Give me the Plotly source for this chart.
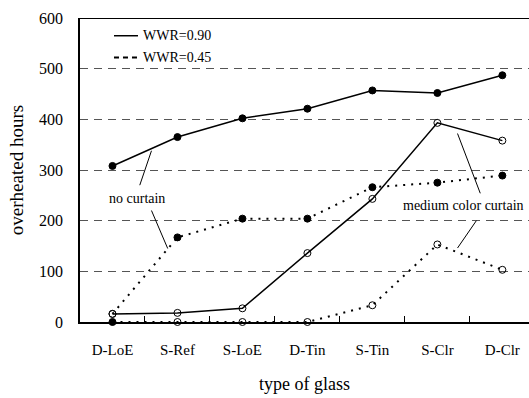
import plotly.graph_objects as go

glass = ["D-LoE", "S-Ref", "S-LoE", "D-Tin", "S-Tin", "S-Clr", "D-Clr"]
wwr90_none = [308, 365, 402, 421, 457, 452, 487]
wwr90_curtain = [16, 18, 27, 136, 243, 393, 358]
wwr45_none = [16, 167, 204, 204, 266, 275, 289]
wwr45_curtain = [0, 0, 0, 0, 33, 153, 103]
y_ticks = [0, 100, 200, 300, 400, 500, 600]

FONT = "'Liberation Serif', 'Times New Roman', serif"
fig = go.Figure()

def add(vals, dash, width, symbols):
    fig.add_trace(go.Scatter(
        x=glass, y=vals, mode="lines+markers",
        line=dict(color="black", width=width, dash=dash),
        marker=dict(symbol=symbols, size=7, color="black",
                    line=dict(color="black", width=1)),
        showlegend=False, cliponaxis=False))

add(wwr45_curtain, "2px,6px", 2, ["circle"] + ["circle-open"] * 6)
add(wwr45_none, "2px,6px", 2, ["circle-open"] + ["circle"] * 6)
add(wwr90_curtain, "solid", 1.5, "circle-open")
add(wwr90_none, "solid", 1.5, "circle")

fig.update_layout(
    width=529, height=398,
    margin=dict(l=80, r=0, t=18, b=76),
    paper_bgcolor="white", plot_bgcolor="white",
    font=dict(family=FONT, color="black", size=14),
    xaxis=dict(type="category", range=[-0.5, 6.41], showgrid=False,
               showline=True, linecolor="black", linewidth=2,
               ticks="inside", tickson="boundaries", ticklen=6,
               tickcolor="black", tickfont=dict(family=FONT, size=15),
               ticklabelstandoff=13,
               title=dict(text="type of glass", font=dict(family=FONT, size=18), standoff=20)),
    yaxis=dict(range=[0, 600], tickvals=y_ticks, showgrid=True,
               gridcolor="#555555", griddash="8px,6px", gridwidth=1,
               showline=True, linecolor="black", linewidth=1.5,
               zeroline=False, ticks="", tickfont=dict(family=FONT, size=16),
               ticklabelstandoff=12,
               title=dict(text="overheated hours", font=dict(family=FONT, size=19), standoff=10)),
)

# top border
fig.add_shape(type="line", xref="paper", yref="y", x0=0, x1=1, y0=600, y1=600,
              line=dict(color="black", width=2))

# legend
for yy, dash, w, label in [(565, "solid", 1.5, "WWR=0.90"), (522, "5px,4px", 2, "WWR=0.45")]:
    fig.add_shape(type="line", xref="x", yref="y", x0=-0.5 + 34 / 65, x1=-0.5 + 58 / 65,
                  y0=yy, y1=yy, line=dict(color="black", width=w, dash=dash))
    fig.add_annotation(xref="x", yref="y", x=-0.5 + 61 / 65, y=yy, text=label,
                       showarrow=False, xanchor="left", font=dict(family=FONT, size=14))

# callouts
fig.add_annotation(xref="x", yref="y", x=0.37, y=244, text="no curtain",
                   showarrow=False, font=dict(family=FONT, size=14))
fig.add_annotation(xref="x", yref="y", x=5.4, y=230, text="medium color curtain",
                   showarrow=False, font=dict(family=FONT, size=14))

def seg(x0, y0, x1, y1):
    fig.add_shape(type="line", xref="x", yref="y", x0=x0, y0=y0, x1=x1, y1=y1,
                  line=dict(color="black", width=1))

seg(0.6, 338, 0.42, 270)
seg(0.6, 220, 0.85, 145)
seg(5.31, 372, 5.66, 254)
seg(5.6, 200, 5.31, 146)

fig.write_html("out.html")
